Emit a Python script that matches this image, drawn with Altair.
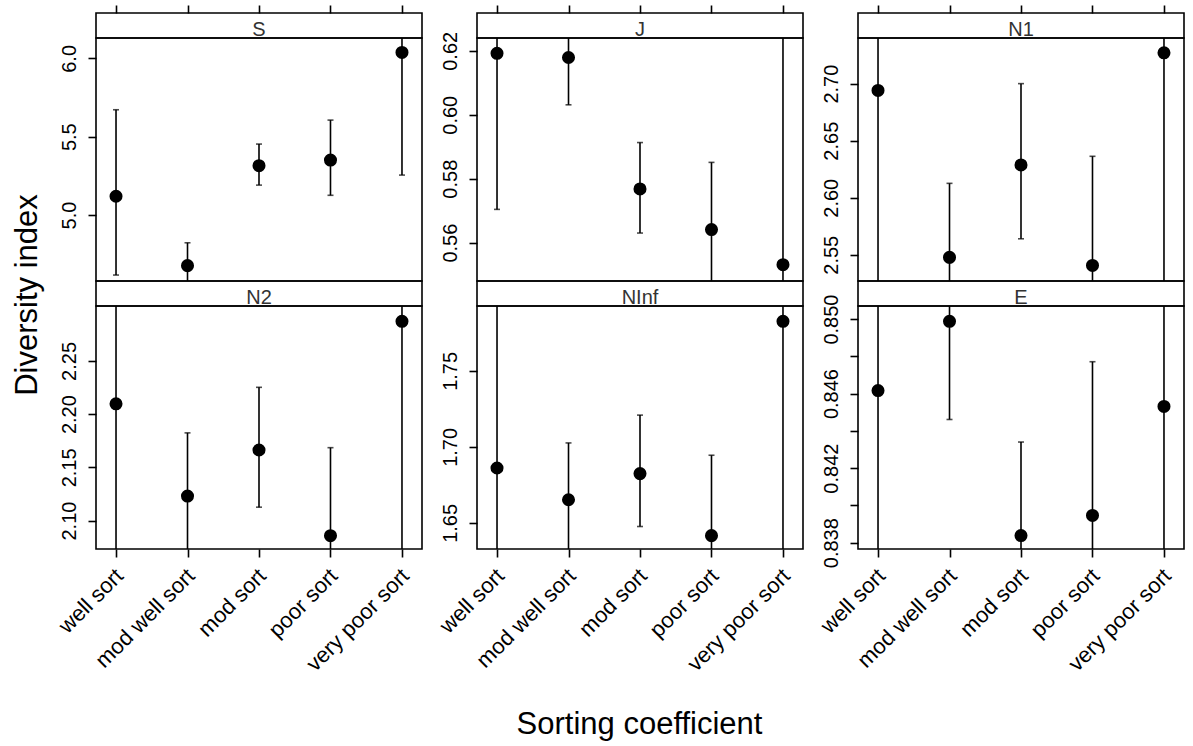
import altair as alt
import pandas as pd

categories = ["well sort", "mod well sort", "mod sort", "poor sort", "very poor sort"]

# ---- values (mean, lower, upper) ----
S_mean = [5.120, 4.677, 5.315, 5.351, 6.038]
S_lo = [4.617, 4.531, 5.191, 5.126, 5.255]
S_hi = [5.672, 4.823, 5.453, 5.606, 6.900]

J_mean = [0.6192, 0.6179, 0.5768, 0.5641, 0.5531]
J_lo = [0.5704, 0.6031, 0.5630, 0.5430, 0.4800]
J_hi = [0.6680, 0.6327, 0.5913, 0.5851, 0.6300]

N1_mean = [2.694, 2.5477, 2.6287, 2.5406, 2.727]
N1_lo = [2.450, 2.4830, 2.5640, 2.4450, 2.400]
N1_hi = [2.940, 2.6126, 2.7000, 2.6363, 3.050]

N2_mean = [2.2097, 2.1230, 2.1663, 2.0858, 2.2872]
N2_lo = [1.9500, 2.0640, 2.1126, 2.0030, 2.0000]
N2_hi = [2.4700, 2.1824, 2.2252, 2.1685, 2.6000]

NInf_mean = [1.6861, 1.6652, 1.6824, 1.6416, 1.7826]
NInf_lo = [1.5800, 1.6280, 1.6476, 1.5890, 1.5500]
NInf_hi = [1.8100, 1.7026, 1.7209, 1.6945, 2.0000]

E_mean = [0.84616, 0.84988, 0.83838, 0.83946, 0.84531]
E_lo = [0.83600, 0.84461, 0.83340, 0.83120, 0.83500]
E_hi = [0.85600, 0.85520, 0.84340, 0.84771, 0.85600]

# y ranges and tick labels of each panel
S_domain = [4.579, 6.130]
J_domain = [0.548, 0.624]
N1_domain = [2.527, 2.740]
N2_domain = [2.0733, 2.3016]
NInf_domain = [1.6328, 1.7927]
E_domain = [0.83766, 0.8507]

S_ticks = [5.0, 5.5, 6.0]
J_ticks = [0.56, 0.58, 0.60, 0.62]
N1_ticks = [2.55, 2.60, 2.65, 2.70]
N2_ticks = [2.10, 2.15, 2.20, 2.25]
NInf_ticks = [1.65, 1.70, 1.75]
E_ticks = [0.838, 0.840, 0.842, 0.844, 0.846, 0.848, 0.850]
E_labelled = ["0.838", "0.842", "0.846", "0.850"]

Y_TITLE = "Diversity index"
X_TITLE = "Sorting coefficient"

FONT = "Liberation Sans"
W = 326
PH = 243
SH = 25
LW = 1.6


def strip_chart(name, top):
    df = pd.DataFrame({"cat": categories})
    xscale = alt.Scale(type="point", domain=categories, padding=0.28)
    if top:
        strip_axis = alt.Axis(orient="top", labels=False, ticks=True, domain=False,
                              title=None, tickSize=8, tickColor="black",
                              tickWidth=LW, grid=False)
    else:
        strip_axis = None
    strip_base = alt.Chart(df).mark_point(opacity=0).encode(
        x=alt.X("cat:N", scale=xscale, axis=strip_axis, sort=categories)
    )
    strip_text = alt.Chart(pd.DataFrame({"name": [name]})).mark_text(
        font=FONT, fontSize=20, color="#333333", baseline="alphabetic", align="center"
    ).encode(text="name:N", x=alt.value(W / 2), y=alt.value(22.5))
    return alt.layer(strip_base, strip_text).properties(width=W, height=SH)


def plot_chart(mean, lo, hi, domain, ticks, fmt, top, labelled=None, ytitle=False, xtitle=False):
    df = pd.DataFrame({"cat": categories, "mean": mean, "lo": lo, "hi": hi})
    xscale = alt.Scale(type="point", domain=categories, padding=0.28)
    yscale = alt.Scale(domain=domain, nice=False, zero=False)
    axis_kw = dict(values=ticks, format=fmt, title=None, grid=False, domain=False,
                   tickSize=8, tickColor="black", tickWidth=LW, labelAngle=270,
                   labelAlign="center", labelBaseline="alphabetic", labelPadding=13,
                   labelFont=FONT, labelFontSize=20, labelColor="black",
                   labelOverlap=False, labelFlush=False)
    if labelled is not None:
        arr = "[" + ",".join("'%s'" % v for v in labelled) + "]"
        axis_kw["labelExpr"] = ("indexof(%s, format(datum.value, '%s')) >= 0 ? "
                                "format(datum.value, '%s') : ''") % (arr, fmt, fmt)
    if ytitle:
        axis_kw.update(title=Y_TITLE, titleFont=FONT, titleFontSize=31, titleFontWeight="normal",
                       titleColor="black", titleAngle=270, titleAlign="center",
                       titleBaseline="alphabetic", titleX=-60, titleY=-11.5)
    yaxis = alt.Axis(**axis_kw)

    if top:
        xaxis = None
    else:
        x_kw = dict(orient="bottom", title=None, domain=False, grid=False,
                    tickSize=8, tickColor="black", tickWidth=LW,
                    labelAngle=315, labelAlign="right", labelBaseline="middle",
                    labelPadding=15, labelOffset=3, labelFont=FONT, labelFontSize=22,
                    labelColor="black", labelOverlap=False)
        if xtitle:
            x_kw.update(title=X_TITLE, titleFont=FONT, titleFontSize=31, titleFontWeight="normal",
                        titleColor="black", titleAlign="center", titleBaseline="alphabetic",
                        titleX=162, titleY=184)
        xaxis = alt.Axis(**x_kw)

    base = alt.Chart(df).encode(x=alt.X("cat:N", scale=xscale, axis=xaxis, sort=categories))
    rules = base.mark_rule(color="black", strokeWidth=LW, clip=True).encode(
        y=alt.Y("lo:Q", scale=yscale, axis=yaxis), y2="hi:Q"
    )
    cap_lo = base.mark_tick(color="black", size=6, thickness=LW, orient="horizontal", clip=True).encode(
        y=alt.Y("lo:Q", scale=yscale, axis=yaxis)
    )
    cap_hi = base.mark_tick(color="black", size=6, thickness=LW, orient="horizontal", clip=True).encode(
        y=alt.Y("hi:Q", scale=yscale, axis=yaxis)
    )
    pts = base.mark_circle(size=170, color="black", opacity=1).encode(
        y=alt.Y("mean:Q", scale=yscale, axis=yaxis)
    )
    return alt.layer(rules, cap_lo, cap_hi, pts).properties(width=W, height=PH)


cells = [
    strip_chart("S", True), strip_chart("J", True), strip_chart("N1", True),
    plot_chart(S_mean, S_lo, S_hi, S_domain, S_ticks, ".1f", True),
    plot_chart(J_mean, J_lo, J_hi, J_domain, J_ticks, ".2f", True),
    plot_chart(N1_mean, N1_lo, N1_hi, N1_domain, N1_ticks, ".2f", True),
    strip_chart("N2", False), strip_chart("NInf", False), strip_chart("E", False),
    plot_chart(N2_mean, N2_lo, N2_hi, N2_domain, N2_ticks, ".2f", False, ytitle=True),
    plot_chart(NInf_mean, NInf_lo, NInf_hi, NInf_domain, NInf_ticks, ".2f", False, xtitle=True),
    plot_chart(E_mean, E_lo, E_hi, E_domain, E_ticks, ".3f", False, labelled=E_labelled),
]

chart = alt.concat(
    *cells, columns=3, spacing={"row": 0, "column": 55}, bounds="flush",
    padding={"left": 10, "top": 3, "right": 5, "bottom": 5},
    background="white",
).resolve_scale(x="independent", y="independent").configure_view(
    stroke="black", strokeWidth=LW
)

chart.save("out.html", embed_options={"renderer": "svg", "actions": False})
